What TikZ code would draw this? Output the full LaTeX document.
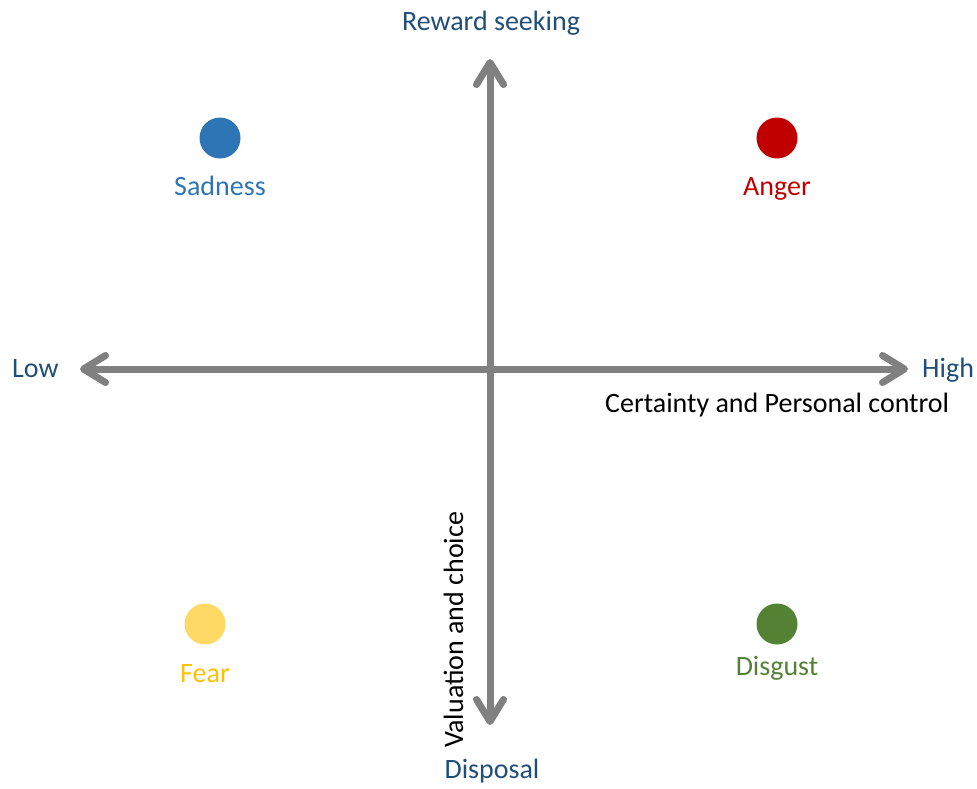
\documentclass[tikz,border=0pt]{standalone}
\usepackage{fontspec}
\setmainfont{Carlito}
\usetikzlibrary{arrows.meta}
\definecolor{axisgray}{HTML}{808080}
\definecolor{darkblue}{HTML}{1F4E79}
\definecolor{sadblue}{HTML}{2E75B6}
\definecolor{angerred}{HTML}{C00000}
\definecolor{feardot}{HTML}{FFD966}
\definecolor{feartext}{HTML}{FFC000}
\definecolor{disgustgreen}{HTML}{548235}
\begin{document}
\begin{tikzpicture}[x=1pt,y=-1pt,
  axis/.style={draw=axisgray, line width=7pt,
    {Straight Barb[length=22pt,width=27pt,line cap=round,line join=round]}-{Straight Barb[length=22pt,width=27pt,line cap=round,line join=round]}},
  lbl/.style={font=\fontsize{28}{32}\selectfont, inner sep=0pt, anchor=base},
  dot/.style={circle, minimum size=41pt, inner sep=0pt, draw=none}]
\useasboundingbox (0,0) rectangle (977,788);
\coordinate (top) at (490,59);
\coordinate (bot) at (490,725);
\coordinate (left) at (80,369);
\coordinate (right) at (908,369);
\draw[axis] (top) -- (bot);
\draw[axis] (left) -- (right);
\node[lbl, text=darkblue] (rs) at (491,30) {Reward seeking};
\node[lbl, text=darkblue] (disp) at (492,778) {Disposal};
\node[lbl, text=darkblue, anchor=base west] (low) at (12,377) {Low};
\node[lbl, text=darkblue, anchor=base west] (high) at (922,377) {High};
\node[lbl, text=black, anchor=base west] (cpc) at (605,412) {Certainty and Personal control};
\node[lbl, text=black, rotate=90, anchor=base west] (vc) at (463,748) {Valuation and choice};
\node[dot, fill=sadblue] (sd) at (220,138) {};
\node[lbl, text=sadblue] (sdl) at (220,195) {Sadness};
\node[dot, fill=angerred] (ad) at (777,138) {};
\node[lbl, text=angerred] (adl) at (777,195) {Anger};
\node[dot, fill=feardot] (fd) at (205,624) {};
\node[lbl, text=feartext] (fdl) at (205,682) {Fear};
\node[dot, fill=disgustgreen] (gd) at (777,624) {};
\node[lbl, text=disgustgreen] (gdl) at (777,675) {Disgust};
\end{tikzpicture}
\end{document}
